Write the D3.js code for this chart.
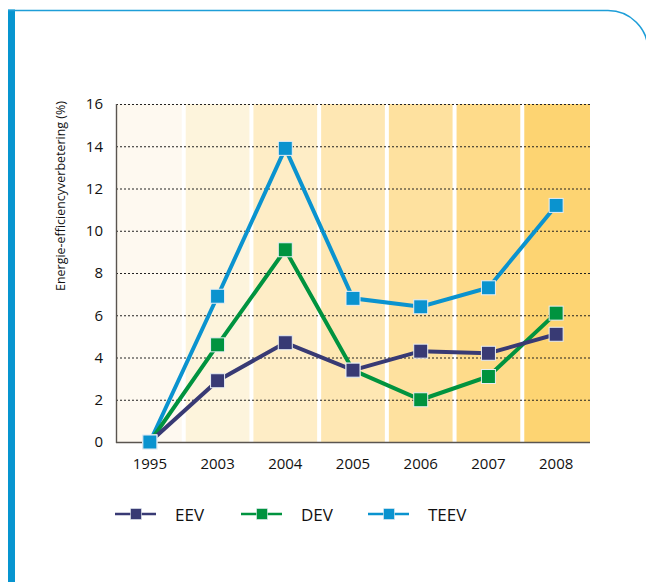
<!DOCTYPE html>
<html>
<head>
<meta charset="utf-8">
<script src="https://cdn.jsdelivr.net/npm/d3@7"></script>
<style>
  html, body { margin: 0; padding: 0; background: #fff; }
  svg { display: block; font-family: "Open Sans", "Noto Sans", sans-serif; }
</style>
</head>
<body>
<svg id="chart" width="646" height="582"></svg>
<script>
// Years on the x axis
const years = ["1995", "2003", "2004", "2005", "2006", "2007", "2008"];
// Energy-efficiency improvement (%) per indicator
const eev  = [0, 2.9, 4.7, 3.4, 4.3, 4.2, 5.1];
const dev  = [0, 4.6, 9.1, 3.4, 2.0, 3.1, 6.1];
const teev = [0, 6.9, 13.9, 6.8, 6.4, 7.3, 11.2];
const seriesNames = ["EEV", "DEV", "TEEV"];
const yTicks = [0, 2, 4, 6, 8, 10, 12, 14, 16];

const seriesColors = { EEV: "#383a74", DEV: "#00933f", TEEV: "#0a93cf" };
const bandColors = ["#fef9f0", "#fdf4dc", "#feedc6", "#fee7b3", "#fee19f", "#fedb8a", "#fdd472"];

const svg = d3.select("#chart");

// Page frame: thick blue bar on the left, thin rounded rule across the top
svg.append("rect").attr("x", 8).attr("y", 9.5).attr("width", 7).attr("height", 582).attr("fill", "#0795d0");
svg.append("path")
  .attr("d", "M8,10.5 H608 A40,40 0 0 1 648,50.5")
  .attr("fill", "none").attr("stroke", "#1e9ed8").attr("stroke-width", 1.6);

const plotLeft = 116, plotRight = 590, plotTop = 104, plotBottom = 442;

const x = d3.scaleBand().domain(years).range([plotLeft, plotRight]).padding(0);
const y = d3.scaleLinear().domain([0, 16]).range([plotBottom, plotTop]);

// Shaded column per year, separated by white gaps
const g = svg.append("g");
g.selectAll("rect.band").data(years).join("rect")
  .attr("class", "band")
  .attr("x", (d, i) => i === 0 ? plotLeft : x(d) + 2)
  .attr("width", (d, i) => {
    const x0 = i === 0 ? plotLeft : x(d) + 2;
    const x1 = i === years.length - 1 ? plotRight : x(d) + x.bandwidth() - 2;
    return x1 - x0;
  })
  .attr("y", plotTop)
  .attr("height", plotBottom - plotTop)
  .attr("fill", (d, i) => bandColors[i]);

// Dotted horizontal grid lines
g.selectAll("line.grid").data(yTicks.filter(t => t > 0)).join("line")
  .attr("class", "grid")
  .attr("x1", plotLeft).attr("x2", plotRight)
  .attr("y1", d => y(d) + 0.5).attr("y2", d => y(d) + 0.5)
  .attr("stroke", "#222").attr("stroke-width", 1)
  .attr("stroke-dasharray", "2,2");

// Axis lines
g.append("line").attr("x1", plotLeft + 0.5).attr("x2", plotLeft + 0.5).attr("y1", plotTop).attr("y2", plotBottom + 1)
  .attr("stroke", "#5a5550").attr("stroke-width", 1.4);
g.append("line").attr("x1", plotLeft).attr("x2", plotRight).attr("y1", plotBottom + 0.5).attr("y2", plotBottom + 0.5)
  .attr("stroke", "#5a5550").attr("stroke-width", 1.6);

// Y axis tick labels
const yAxis = d3.axisLeft(y).tickValues(yTicks).tickSize(0).tickPadding(13).tickFormat(d3.format("d"));
const yg = svg.append("g").attr("transform", `translate(${plotLeft},0)`).call(yAxis);
yg.select(".domain").remove();
yg.selectAll("text").attr("font-size", 15).attr("fill", "#111")
  .attr("font-family", "'Open Sans', sans-serif");

// X axis tick labels
const xAxis = d3.axisBottom(x).tickSize(0).tickPadding(16);
const xg = svg.append("g").attr("transform", `translate(0,${plotBottom})`).call(xAxis);
xg.select(".domain").remove();
xg.selectAll("text").attr("font-size", 15).attr("fill", "#111")
  .attr("font-family", "'Open Sans', sans-serif");

// Y axis title
svg.append("text")
  .attr("transform", "translate(65,196) rotate(-90)")
  .attr("text-anchor", "middle")
  .attr("font-size", 12.5)
  .attr("fill", "#111")
  .attr("textLength", 190)
  .attr("lengthAdjust", "spacingAndGlyphs")
  .text("Energie-efficiencyverbetering (%)");

// Series lines and square markers
const data = { EEV: eev, DEV: dev, TEEV: teev };
const cx = d => x(d) + x.bandwidth() / 2;
const line = d3.line().x((v, i) => cx(years[i])).y(v => y(v));

["TEEV", "DEV", "EEV"].forEach(name => {
  svg.append("path")
    .datum(data[name])
    .attr("d", line)
    .attr("fill", "none")
    .attr("stroke", seriesColors[name])
    .attr("stroke-width", 4)
    .attr("stroke-linejoin", "miter");
});
["DEV", "EEV", "TEEV"].forEach(name => {
  svg.append("g").selectAll("rect").data(data[name]).join("rect")
    .attr("x", (v, i) => cx(years[i]) - 7)
    .attr("y", v => y(v) - 7)
    .attr("width", 14).attr("height", 14)
    .attr("fill", seriesColors[name])
    .attr("stroke", "#e8eef4").attr("stroke-width", 1);
});

// Legend
const legendX = [115, 241, 368];
const legendY = 514;
const lg = svg.append("g");
seriesNames.forEach((name, i) => {
  const x0 = legendX[i];
  lg.append("line").attr("x1", x0).attr("x2", x0 + 41).attr("y1", legendY).attr("y2", legendY)
    .attr("stroke", seriesColors[name]).attr("stroke-width", 2.5);
  lg.append("rect").attr("x", x0 + 15.5).attr("y", legendY - 5.5).attr("width", 11).attr("height", 11)
    .attr("fill", seriesColors[name]).attr("stroke", "#e8eef4").attr("stroke-width", 0.6);
  lg.append("text").attr("x", x0 + 60).attr("y", legendY + 6.5)
    .attr("font-size", 17).attr("fill", "#111").text(name);
});
</script>
</body>
</html>
